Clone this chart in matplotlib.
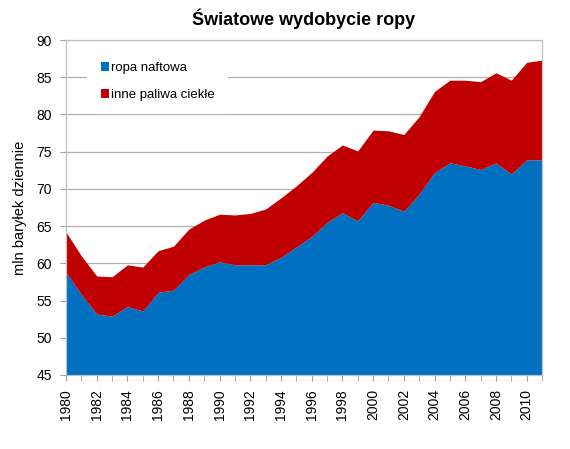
import numpy as np
import matplotlib.pyplot as plt

plt.rcParams['font.family'] = ['Liberation Sans', 'DejaVu Sans']

years = np.arange(1980, 2012)
ropa = [58.8, 55.8, 53.2, 52.9, 54.2, 53.6, 56.1, 56.4, 58.5, 59.5, 60.2, 59.8,
        59.8, 59.8, 60.8, 62.2, 63.6, 65.5, 66.8, 65.7, 68.2, 67.8, 67.0, 69.3,
        72.2, 73.5, 73.1, 72.6, 73.5, 72.0, 73.9, 73.9]
razem = [64.2, 61.0, 58.3, 58.2, 59.8, 59.5, 61.7, 62.3, 64.6, 65.8, 66.6, 66.5,
         66.7, 67.3, 68.8, 70.4, 72.2, 74.4, 75.9, 75.1, 77.9, 77.8, 77.3, 79.7,
         83.1, 84.6, 84.6, 84.4, 85.6, 84.6, 87.0, 87.3]
labels = ['ropa naftowa', 'inne paliwa ciekłe']

fig = plt.figure(figsize=(5.7, 4.49), dpi=100)
ax = fig.add_axes([66/570, 1 - 375/449, (542-66)/570, (375-40)/449])

ax.fill_between(years, 45, ropa, color='#0070C0', linewidth=0, label=labels[0], zorder=2)
ax.fill_between(years, ropa, razem, color='#C00000', linewidth=0, label=labels[1], zorder=2)

ax.set_xlim(1980, 2011)
ax.set_ylim(45, 90)
ax.set_yticks(range(45, 91, 5))
ax.set_xticks(range(1980, 2012, 2))
ax.set_xticks(years, minor=True)
ax.set_xticklabels([str(y) for y in range(1980, 2012, 2)], rotation=90)
ax.tick_params(axis='both', labelsize=10, color='#A0A0A0', direction='out', length=4)
ax.tick_params(axis='x', which='minor', color='#A0A0A0', length=4)
ax.tick_params(axis='y', pad=6)
ax.tick_params(axis='x', pad=6)
narrow = ['Liberation Sans Narrow', 'Liberation Sans', 'DejaVu Sans']
for t in ax.get_xticklabels() + ax.get_yticklabels():
    t.set_family(narrow)
ax.grid(axis='y', color='#B0B0B0', linewidth=0.9, zorder=0)
ax.set_axisbelow(True)
for s in ax.spines.values():
    s.set_color('#C0C0C0')
    s.set_linewidth(0.9)

ax.set_ylabel('mln baryłek dziennie', fontsize=10.5, labelpad=7)
fig.suptitle('Światowe wydobycie ropy', fontsize=13, fontweight='bold', x=0.532, y=0.98)

# legenda na bialym tle, zaslania linie siatki 85
leg = ax.legend(loc='upper left', bbox_to_anchor=(0.045, 0.973), frameon=True,
                fontsize=9.5, handlelength=0.6, handleheight=0.7, handletextpad=0.2,
                labelspacing=1.1, borderpad=1.0, borderaxespad=0)
leg.get_frame().set_facecolor('white')
leg.get_frame().set_edgecolor('none')
leg.get_frame().set_alpha(1)

fig.savefig('out.png', dpi=100)
